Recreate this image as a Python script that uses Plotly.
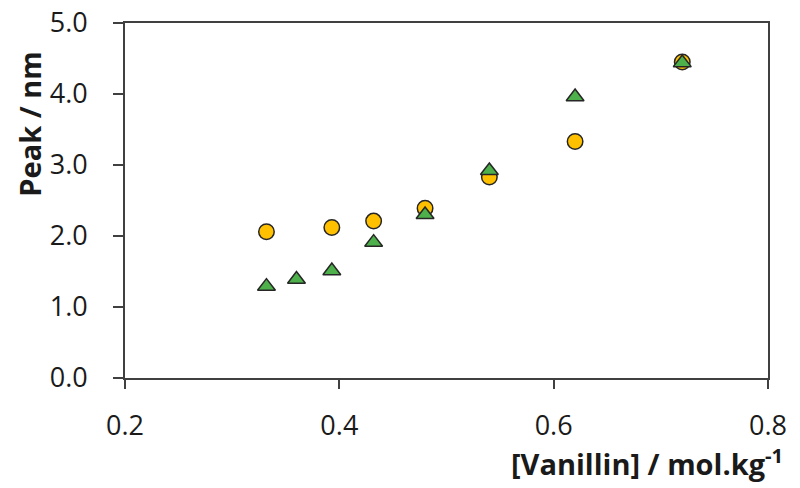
import plotly.graph_objects as go

x_circle = [0.332, 0.393, 0.432, 0.480, 0.540, 0.620, 0.720]
y_circle = [2.06, 2.12, 2.21, 2.39, 2.83, 3.33, 4.45]
x_tri = [0.332, 0.360, 0.393, 0.432, 0.480, 0.540, 0.620, 0.720]
y_tri = [1.29, 1.39, 1.51, 1.91, 2.30, 2.92, 3.96, 4.44]

FONT = "Open Sans"
AXIS = "#404040"

fig = go.Figure()
fig.add_trace(go.Scatter(x=x_circle, y=y_circle, mode="markers",
                         marker=dict(symbol="circle", size=15.5, color="#FFC000",
                                     line=dict(color="#262626", width=1.5))))
fig.add_trace(go.Scatter(x=x_tri, y=y_tri, mode="markers",
                         marker=dict(symbol="triangle-up", size=15.5, color="#4DB04A",
                                     line=dict(color="#262626", width=1.5))))

axis_common = dict(showgrid=False, zeroline=False, showline=True, mirror=True,
                   linecolor=AXIS, linewidth=1.8, ticks="outside", tickcolor=AXIS,
                   tickwidth=1.5, tickformat=".1f", ticklabeloverflow="allow",
                   automargin=False)

fig.update_layout(
    width=800, height=488,
    margin=dict(l=117, r=40, t=15, b=118),
    paper_bgcolor="white", plot_bgcolor="white",
    showlegend=False,
    font=dict(family=FONT, size=27, color="#1a1a1a"),
    xaxis=dict(range=[0.2, 0.8], tickvals=[0.2, 0.4, 0.6, 0.8], ticklen=9,
               ticklabelstandoff=14, **axis_common),
    yaxis=dict(range=[0, 5], tickvals=[0, 1, 2, 3, 4, 5], ticklen=10,
               ticklabelstandoff=20, **axis_common),
    annotations=[
        dict(text="<b>Peak / nm</b>", xref="paper", yref="paper",
             x=-0.148, y=0.716, xanchor="center", yanchor="middle",
             textangle=-90, showarrow=False, font=dict(size=29, family=FONT)),
        dict(text="<b>[Vanillin] / mol.kg<sup>-1</sup></b>", xref="paper", yref="paper",
             x=1.026, y=-0.236, xanchor="right", yanchor="middle",
             showarrow=False, font=dict(size=29, family=FONT)),
    ],
)

fig.write_html("out.html")
